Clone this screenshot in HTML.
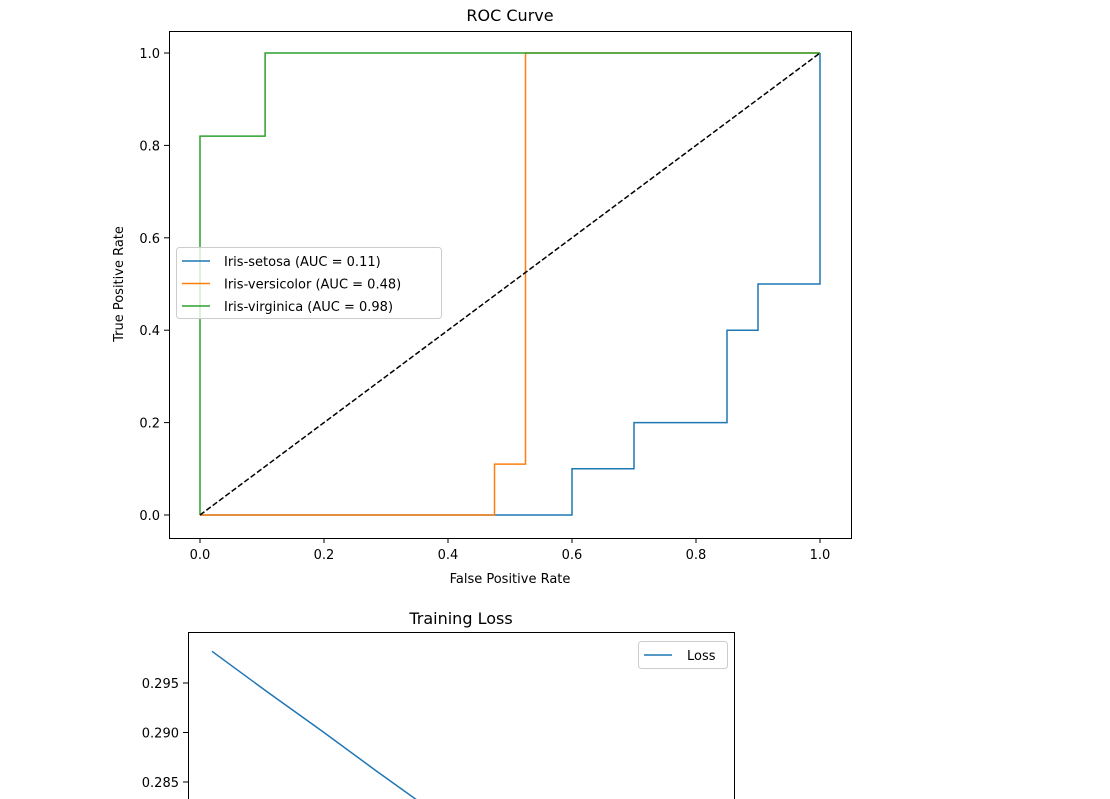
<!DOCTYPE html>
<html><head><meta charset="utf-8"><style>
body{margin:0;background:#fff;width:1110px;height:799px;overflow:hidden}
svg{display:block}
text{font-family:"DejaVu Sans","Liberation Sans",sans-serif;fill:#000}
</style></head><body>
<svg id="svg" width="1110" height="799" xmlns="http://www.w3.org/2000/svg"></svg>
<script>
const rocTicks=[0,0.2,0.4,0.6,0.8,1.0];
const setosaFpr=[0,0.6,0.6,0.7,0.7,0.85,0.85,0.9,0.9,1.0,1.0];
const setosaTpr=[0,0,0.1,0.1,0.2,0.2,0.4,0.4,0.5,0.5,1.0];
const versiFpr=[0,0.475,0.475,0.525,0.525,1.0];
const versiTpr=[0,0,0.11,0.11,1.0,1.0];
const virgFpr=[0,0,0.105,0.105,1.0];
const virgTpr=[0,0.82,0.82,1.0,1.0];
const seriesNames=["Iris-setosa (AUC = 0.11)","Iris-versicolor (AUC = 0.48)","Iris-virginica (AUC = 0.98)"];
const lossEpochs=[1,2,3,4,5,6,7,8,9,10];
const lossValues=[0.2982,0.2941,0.2901,0.2860,0.2820,0.2779,0.2739,0.2698,0.2658,0.2617];
const lossTicks=[0.295,0.290,0.285];

const svg=document.getElementById('svg');
const NS='http://www.w3.org/2000/svg';
function mk(tag,attrs,parent){const e=document.createElementNS(NS,tag);for(const k in attrs)e.setAttribute(k,attrs[k]);(parent||svg).appendChild(e);return e;}
const X=v=>200+v*620, Y=v=>515-v*462;
let g=mk('g',{});


let r=mk('rect',{x:169.5,y:31.5,width:682,height:507,fill:'none',stroke:'#000','stroke-width':1},g);


rocTicks.forEach(t=>{
 mk('line',{x1:X(t),x2:X(t),y1:538,y2:543,stroke:'#000'},g);
 let tx=mk('text',{x:X(t),y:559,'font-size':13,'text-anchor':'middle'},g);tx.textContent=t.toFixed(1);
 
 
 mk('line',{x1:164,x2:169,y1:Y(t),y2:Y(t),stroke:'#000'},g);
 let ty=mk('text',{x:160,y:Y(t)+5,'font-size':13,'text-anchor':'end'},g);ty.textContent=t.toFixed(1);
 
 
});
let t1=mk('text',{x:510,y:21,'font-size':16,'text-anchor':'middle'},g);t1.textContent='ROC Curve';


let xl=mk('text',{x:510,y:583,'font-size':13,'text-anchor':'middle'},g);xl.textContent='False Positive Rate';


let yl=mk('text',{x:0,y:0,'font-size':13,'text-anchor':'middle',transform:'translate(123,284) rotate(-90)'},g);yl.textContent='True Positive Rate';


function path(xs,ys,color,name){
 const d=xs.map((x,i)=>(i?'L':'M')+X(x)+','+Y(ys[i])).join('');
 const p=mk('path',{d:d,fill:'none',stroke:color,'stroke-width':1.5},g);
 
 
}
path(setosaFpr,setosaTpr,'#1f77b4','setosa-line');
path(versiFpr,versiTpr,'#ff7f0e','versicolor-line');
path(virgFpr,virgTpr,'#2ca02c','virginica-line');
let dg=mk('line',{x1:X(0),y1:Y(0),x2:X(1),y2:Y(1),stroke:'#000','stroke-width':1.5,'stroke-dasharray':'5.5,2.4'},g);


let lg=mk('g',{},g);


mk('rect',{x:176.5,y:247.5,width:265,height:71,rx:3,fill:'#fff','fill-opacity':0.8,stroke:'#ccc'},lg);
const cols=['#1f77b4','#ff7f0e','#2ca02c'];
seriesNames.forEach((n,i)=>{
 const yy=261+i*22.5;
 mk('line',{x1:182,x2:210,y1:yy,y2:yy,stroke:cols[i],'stroke-width':1.5},lg);
 let t=mk('text',{x:224,y:yy+5,'font-size':13},lg);t.textContent=n;
 
 
});
const LX=e=>212+(e-1)*55.3, LY=v=>683-(v-0.295)*9900;
let g2=mk('g',{});


let r2=mk('rect',{x:188.5,y:632.5,width:546,height:170,fill:'none',stroke:'#000'},g2);


let t2=mk('text',{x:461,y:624,'font-size':16,'text-anchor':'middle'},g2);t2.textContent='Training Loss';


lossTicks.forEach(t=>{
 mk('line',{x1:183,x2:188,y1:LY(t),y2:LY(t),stroke:'#000'},g2);
 let tt=mk('text',{x:179,y:LY(t)+5,'font-size':13,'text-anchor':'end'},g2);tt.textContent=t.toFixed(3);
 
 
});
let cp=mk('clipPath',{id:'lc'},g2);mk('rect',{x:189,y:633,width:545,height:166},cp);
let lp=mk('path',{d:lossEpochs.map((e,i)=>(i?'L':'M')+LX(e)+','+LY(lossValues[i])).join(''),fill:'none',stroke:'#1f77b4','stroke-width':1.5,'clip-path':'url(#lc)'},g2);


let lg2=mk('g',{},g2);


mk('rect',{x:638.5,y:641.5,width:89,height:27,rx:3,fill:'#fff','fill-opacity':0.8,stroke:'#ccc'},lg2);
mk('line',{x1:644,x2:672,y1:655,y2:655,stroke:'#1f77b4','stroke-width':1.5},lg2);
let lt=mk('text',{x:687,y:660,'font-size':13},lg2);lt.textContent='Loss';


</script>
</body></html>
